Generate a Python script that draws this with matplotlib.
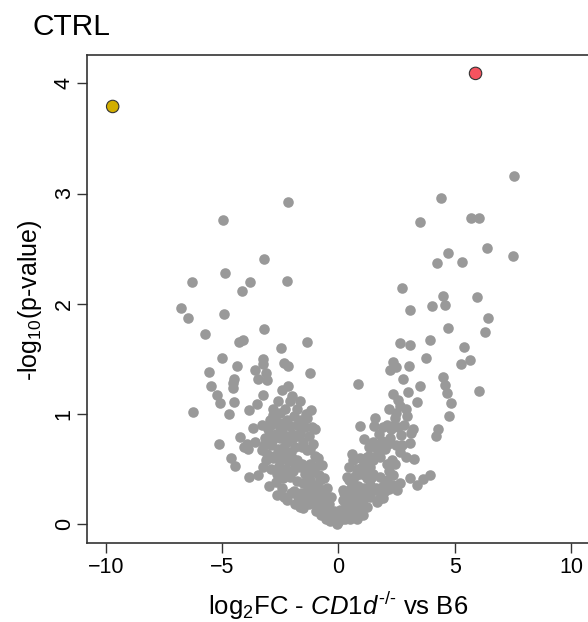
"""Volcano plot: CTRL, log2FC CD1d-/- vs B6."""

import matplotlib

matplotlib.use("Agg")

import matplotlib.pyplot as plt


# gray points: (log2FC, -log10 p)
GRAY_X = [
    # left wing, sparse part
    -2.15, -4.95, -3.21, -4.88, -6.30, -3.81, -2.22, -4.13, -6.75, -6.45,
    -4.91, -3.18, -5.73, -4.25, -4.11, -2.46, -1.33, -4.98, -3.25, -3.25,
    -2.32, -2.15, -4.34, -5.57, -3.59, -3.11, -1.22, -4.50, -3.44, -5.48,
    -4.51, -4.54, -3.08, -5.23, -5.08, -6.26, -4.50, -4.68, -3.85, -3.51,
    -3.25, -2.43, -2.15, -2.00, -2.08, -2.80, -2.51, -1.79, -1.19, -1.36,
    -2.82, -5.11, -4.62, -4.43, -3.84, -3.44, -3.25, -2.97, -4.22, -3.94,
    -3.58, -3.65, -3.29, -3.01, -4.05, -3.87,
    # left wing, dense part
    -2.94, -2.65, -2.36, -2.08, -1.79, -1.00, -1.65, -3.15, -2.86, -2.51,
    -2.22, -1.93, -1.57, -1.36, -1.07, -3.29, -3.08, -2.79, -2.43, -2.15,
    -1.79, -1.65, -1.22, -0.86, -0.71, -2.65, -2.36, -2.08, -1.79, -1.50,
    -1.22, -0.93, -0.71, -0.50, -2.65, -2.22, -1.86, -1.50, -1.65, -1.36,
    -1.00, -0.71, -0.50, -0.28, -0.07, -2.90, -2.70, -2.40, -2.20, -1.90,
    -1.60, -1.45, -1.25, -1.85, -2.05, -2.35, -2.60, -2.90, -3.10, -2.90,
    -2.55, -2.25, -1.95, -1.45, -1.10, -0.85, -1.35, -1.10, -0.85, -0.60,
    -0.40, -0.30, -0.20, -1.90, -2.40, -1.60, -0.60, -1.00, -0.15, 0.00,
    -0.10, -0.35,
    -2.75, -2.50, -2.30, -2.00, -1.70, -1.50, -1.20, -2.75, -2.50, -2.30,
    -2.00, -1.85, -1.55, -1.30, -1.00, -0.80, -0.95, -1.20, -1.50, -1.25,
    -0.95, -0.75, -0.55, -0.35, -0.60, -0.45, -1.75, -2.05, -2.35, -2.70,
    -2.45, -3.00, -3.20, -1.15, -1.40, -1.65, -2.60, -2.30,
    # right wing, sparse part
    7.54, 4.41, 3.50, 5.72, 6.03, 6.40, 7.51, 4.71, 4.25, 5.32,
    2.74, 4.50, 5.97, 4.04, 4.57, 3.07, 6.43, 4.70, 6.30, 2.65,
    3.07, 3.95, 5.39, 3.78, 5.29, 5.65, 2.35, 2.49, 2.23, 3.05,
    2.78, 4.51, 0.85, 3.50, 4.57, 4.68, 4.86, 6.05, 4.76, 4.28,
    4.21, 2.35, 2.57, 2.64, 2.92, 3.00, 3.38,
    # right wing, dense part
    2.49, 2.42, 2.35, 2.28, 1.56, 1.52, 0.92, 2.81, 3.21, 3.14,
    2.71, 3.07, 1.10, 1.49, 1.56, 2.14, 2.21, 0.59, 0.63, 2.64,
    2.92, 3.25, 3.93, 3.64, 3.39, 3.09, 2.54, 1.75, 2.94, 1.86,
    2.01, 1.22, 1.50, 1.79, 2.08, 2.29, 0.36, 0.64, 0.93, 1.22,
    1.50, 1.79, 2.08, 2.36, 2.65, 0.21, 0.50, 0.79, 1.07, 1.36,
    1.65, 1.93, 0.07, 0.36, 0.64, 0.93, 1.22, 0.15, 0.43, 0.79,
    0.30, 0.55, 0.85, 1.10, 1.35, 1.60, 1.90, 2.20, 1.00, 1.35,
    2.20, 0.45, 0.80, 1.70, 1.30, 1.90, 0.05, 0.25, 0.20,
    0.25, 0.45, 0.70, 0.60, 0.90, 1.15, 1.45, 1.75, 2.00, 2.35,
    1.15, 1.40, 0.95, 1.15, 1.30, 1.60, 2.45, 2.50, 2.75, 2.55,
    2.10, 2.20, 1.75, 0.50, 1.05, 0.70, 0.30,
]
GRAY_Y = [
    2.92, 2.76, 2.41, 2.28, 2.20, 2.20, 2.21, 2.12, 1.96, 1.87,
    1.91, 1.77, 1.73, 1.65, 1.67, 1.60, 1.65, 1.51, 1.50, 1.45,
    1.46, 1.44, 1.44, 1.38, 1.40, 1.37, 1.37, 1.32, 1.32, 1.25,
    1.28, 1.24, 1.31, 1.17, 1.10, 1.02, 1.11, 1.00, 1.04, 1.09,
    1.17, 1.22, 1.25, 1.16, 1.12, 1.05, 1.01, 1.05, 1.04, 0.96,
    0.99, 0.73, 0.60, 0.53, 0.43, 0.45, 0.52, 0.35, 0.79, 0.73,
    0.75, 0.87, 0.90, 0.86, 0.70, 0.68,
    0.95, 0.93, 0.92, 0.89, 0.90, 0.86, 0.83, 0.78, 0.76, 0.78,
    0.75, 0.78, 0.70, 0.67, 0.73, 0.67, 0.64, 0.60, 0.61, 0.57,
    0.58, 0.52, 0.55, 0.60, 0.54, 0.46, 0.42, 0.43, 0.39, 0.37,
    0.40, 0.36, 0.31, 0.33, 0.27, 0.22, 0.18, 0.15, 0.16, 0.24,
    0.19, 0.15, 0.10, 0.05, 0.00, 0.90, 0.82, 0.85, 0.95, 0.98,
    0.95, 0.88, 0.80, 0.70, 0.66, 0.70, 0.68, 0.72, 0.58, 0.50,
    0.53, 0.50, 0.48, 0.46, 0.47, 0.45, 0.30, 0.27, 0.24, 0.22,
    0.18, 0.25, 0.12, 0.30, 0.33, 0.28, 0.42, 0.62, 0.03, 0.02,
    0.08, 0.12,
    0.98, 0.88, 0.80, 0.82, 0.80, 0.75, 0.68, 0.62, 0.58, 0.63,
    0.60, 0.52, 0.55, 0.50, 0.52, 0.40, 0.30, 0.33, 0.22, 0.18,
    0.12, 0.08, 0.05, 0.03, 0.30, 0.25, 0.25, 0.28, 0.25, 0.38,
    0.46, 0.80, 0.72, 0.88, 1.00, 1.12, 1.12, 1.05,
    3.16, 2.96, 2.74, 2.78, 2.78, 2.51, 2.43, 2.46, 2.37, 2.38,
    2.14, 2.07, 2.06, 1.98, 1.99, 1.94, 1.87, 1.78, 1.74, 1.64,
    1.63, 1.67, 1.61, 1.51, 1.45, 1.49, 1.47, 1.43, 1.40, 1.44,
    1.32, 1.34, 1.27, 1.25, 1.26, 1.19, 1.10, 1.21, 0.98, 0.86,
    0.80, 1.18, 1.13, 1.07, 1.05, 1.20, 1.11,
    1.01, 0.96, 0.89, 0.86, 0.96, 0.89, 0.89, 0.90, 0.86, 0.83,
    0.81, 0.74, 0.77, 0.75, 0.70, 0.73, 0.78, 0.64, 0.58, 0.66,
    0.61, 0.59, 0.45, 0.41, 0.36, 0.42, 0.31, 0.23, 0.98, 0.76,
    0.68, 0.61, 0.58, 0.61, 0.55, 0.58, 0.43, 0.37, 0.46, 0.42,
    0.46, 0.43, 0.40, 0.45, 0.37, 0.31, 0.25, 0.28, 0.22, 0.25,
    0.20, 0.24, 0.13, 0.16, 0.10, 0.13, 0.16, 0.05, 0.07, 0.05,
    0.20, 0.33, 0.35, 0.33, 0.36, 0.33, 0.35, 0.32, 0.52, 0.52,
    0.48, 0.52, 0.50, 0.68, 0.70, 0.88, 0.08, 0.12, 0.22,
    0.28, 0.40, 0.44, 0.22, 0.20, 0.28, 0.30, 0.30, 0.30, 0.36,
    0.45, 0.42, 0.60, 0.55, 0.62, 0.62, 0.55, 0.72, 0.72, 0.88,
    0.90, 1.05, 0.82, 0.05, 0.08, 0.16, 0.05,
]

# highlighted genes
HIGHLIGHT_X = [-9.70, 5.90]
HIGHLIGHT_Y = [3.79, 4.09]
HIGHLIGHT_COLORS = ["#D2AE00", "#F5535F"]

X_TICKS = [-10, -5, 0, 5, 10]
Y_TICKS = [0, 1, 2, 3, 4]

FONT = "Liberation Sans"


def main() -> None:
    plt.rcParams["font.family"] = FONT
    plt.rcParams["mathtext.fontset"] = "custom"
    plt.rcParams["mathtext.rm"] = FONT
    plt.rcParams["mathtext.it"] = FONT + ":italic"

    fig = plt.figure(figsize=(5.88, 6.22), dpi=100)
    ax = fig.add_axes([0.1485, 0.1275, 0.8537, 0.7841])

    ax.scatter(GRAY_X, GRAY_Y, s=58, color="#999999", linewidths=0, zorder=2)
    ax.scatter(HIGHLIGHT_X, HIGHLIGHT_Y, s=80, c=HIGHLIGHT_COLORS,
               edgecolors="#333333", linewidths=0.8, zorder=3)

    ax.set_xlim(-10.79, 10.79)
    ax.set_ylim(-0.167, 4.257)
    ax.set_xticks(X_TICKS)
    ax.set_yticks(Y_TICKS)
    ax.set_xticklabels([str(t).replace("-", "\u2212") for t in X_TICKS])
    ax.set_yticklabels([str(t) for t in Y_TICKS], rotation=90, va="center")

    for spine in ax.spines.values():
        spine.set_linewidth(1.2)
        spine.set_color("#333333")
    ax.tick_params(direction="out", length=7.5, width=1.0, color="#333333",
                   labelsize=15.5, labelcolor="black")
    ax.tick_params(axis="x", pad=3)
    ax.tick_params(axis="y", pad=1.5)

    fig.text(338.3 / 588, 1 - 606 / 622,
             "log$_2$FC - $\\mathit{CD1d}^{\\mathrm{\u2010/\u2010}}$ vs B6",
             ha="center", va="center", fontsize=18.5)
    fig.text(30 / 588, 1 - 300 / 622, "-log$_{10}$(p-value)",
             ha="center", va="center", rotation=90, fontsize=18)
    fig.text(33 / 588, 1 - 35 / 622, "CTRL", ha="left", va="baseline",
             fontsize=21.5)

    fig.savefig("out.png", dpi=100)
    plt.close(fig)


if __name__ == "__main__":
    main()
